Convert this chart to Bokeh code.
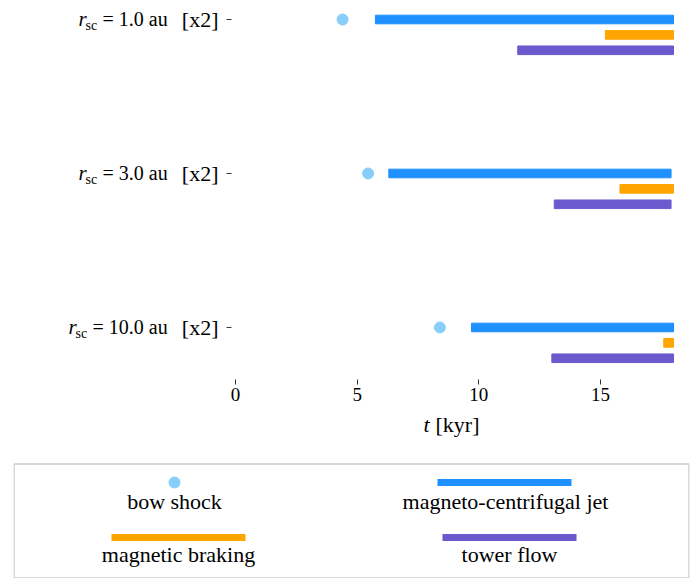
from bokeh.plotting import figure
from bokeh.models import Range1d, FixedTicker
from bokeh.layouts import column
from bokeh.core.properties import value
from bokeh.embed import file_html
from bokeh.resources import INLINE

# ---- data (kyr) ----
radii = ["1.0", "3.0", "10.0"]
row_pos = [2, 1, 0]
bow_shock = [4.4, 5.45, 8.4]
jet_start = [5.75, 6.3, 9.7]
jet_end = [18.0, 17.9, 18.0]
braking_start = [15.2, 15.8, 17.6]
braking_end = [18.0, 18.0, 18.0]
tower_start = [11.6, 13.1, 13.0]
tower_end = [18.0, 17.9, 18.0]
x_ticks = [0, 5, 10, 15]
legend_names = ["bow shock", "magneto-centrifugal jet", "magnetic braking", "tower flow"]

C_BOW = "#87CEFA"
C_JET = "#1E90FF"
C_BRK = "#FFA500"
C_TWR = "#6A5ACD"
SERIF = "Liberation Serif"
DY = 0.1
BAR_H = 0.056

# layout constants (pixels)
PPK = 24.333          # px per kyr
Y0, Y1 = -0.338, 2.0714
PPY = 371 / (Y1 - Y0)

p = figure(width=690, height=410,
           x_range=Range1d(-222 / PPK, 454 / PPK), y_range=Range1d(Y0, Y1),
           output_backend="svg", toolbar_location=None, title=None,
           y_axis_location=None,
           min_border_left=13, min_border_right=1, min_border_top=8, min_border_bottom=31)
p.outline_line_color = None
p.grid.grid_line_color = None

p.hbar(y=row_pos, left=jet_start, right=jet_end, height=BAR_H, color=C_JET)
p.hbar(y=[r - DY for r in row_pos], left=braking_start, right=braking_end, height=BAR_H, color=C_BRK)
p.hbar(y=[r - 2 * DY for r in row_pos], left=tower_start, right=tower_end, height=BAR_H, color=C_TWR)
p.scatter(x=bow_shock, y=row_pos, size=11, color=C_BOW, line_color=C_BOW)

# x axis
xa = p.xaxis[0]
xa.ticker = FixedTicker(ticks=x_ticks)
xa.axis_line_color = None
xa.major_tick_in = 0
xa.major_tick_out = 5
xa.minor_tick_line_color = None
xa.major_tick_line_color = "#333333"
xa.major_label_text_font = SERIF
xa.major_label_text_font_size = "19px"
xa.major_label_text_color = "#000000"
xa.major_label_standoff = 3

# y "axis": tick marks and composed labels
n = len(row_pos)
p.segment(x0=[-9 / PPK] * n, x1=[-4 / PPK] * n, y0=row_pos, y1=row_pos,
          line_color="#333333", line_width=1)
shift = [10 if len(r) > 3 else 0 for r in radii]
p.text(x=[0] * n, y=row_pos, text=["r"] * n, x_offset=[-157 - s for s in shift],
       text_font=value(SERIF), text_font_style="italic", text_font_size="21px",
       text_baseline="middle", text_align="left", text_color="#000000")
p.text(x=[0] * n, y=[r - 6 / PPY for r in row_pos], text=["sc"] * n,
       x_offset=[-150 - s for s in shift],
       text_font=value(SERIF), text_font_size="14px",
       text_baseline="middle", text_align="left", text_color="#000000")
p.text(x=[0] * n, y=row_pos, text=["= " + r + " au" for r in radii],
       x_offset=[-133 - s for s in shift],
       text_font=value(SERIF), text_font_size="20px",
       text_baseline="middle", text_align="left", text_color="#000000")
p.text(x=[0] * n, y=row_pos, text=["[x2]"] * n, x_offset=[-17] * n,
       text_font=value(SERIF), text_font_size="22px",
       text_baseline="middle", text_align="right", text_color="#000000")

# ---- lower panel: axis title + legend box (data units = page pixels) ----
lg = figure(width=690, height=168, x_range=Range1d(13, 689), y_range=Range1d(578, 410),
            output_backend="svg", toolbar_location=None, title=None,
            x_axis_location=None, y_axis_location=None,
            min_border_left=13, min_border_right=1, min_border_top=0, min_border_bottom=0)
lg.outline_line_color = None
lg.grid.grid_line_color = None

lg.text(x=[423], y=[424], text=["t"], text_font=value(SERIF), text_font_style="italic",
        text_font_size="22px", text_baseline="middle", text_align="left", text_color="#000000")
lg.text(x=[435], y=[424], text=["[kyr]"], text_font=value(SERIF),
        text_font_size="22px", text_baseline="middle", text_align="left", text_color="#000000")

lg.quad(left=[13.5], right=[688.5], top=[463.5], bottom=[577.5],
        fill_color=None, line_color="#cccccc", line_width=1.5)
lg.scatter(x=[174], y=[482], size=11, color=C_BOW)
lg.segment(x0=[437, 111, 442], y0=[482, 537, 537], x1=[571, 245, 576], y1=[482, 537, 537],
           line_width=7, line_color=[C_JET, C_BRK, C_TWR], line_cap="butt")
lg.text(x=[174, 505, 178, 509], y=[501, 501, 554, 554], text=legend_names,
        text_align="center", text_baseline="middle", text_font=value(SERIF),
        text_font_size="22px", text_color="#000000")

layout = column(p, lg, spacing=0)
open("out.html", "w").write(file_html(layout, INLINE))
